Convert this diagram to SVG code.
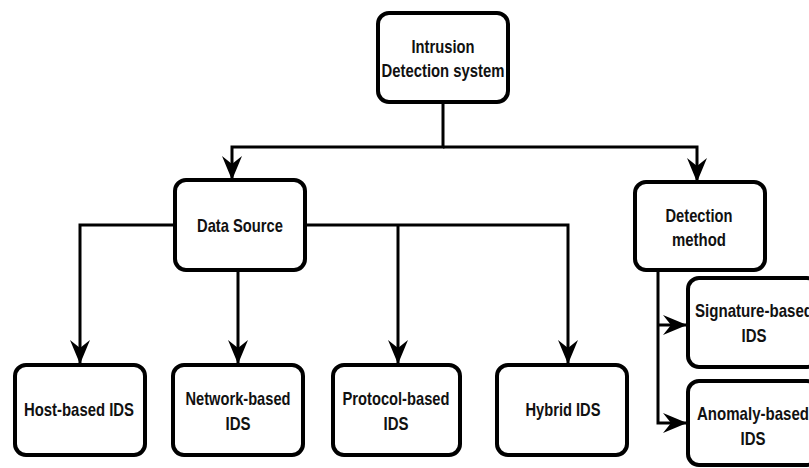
<svg xmlns="http://www.w3.org/2000/svg" width="809" height="468" viewBox="0 0 809 468">
<style>
  .box { fill: #ffffff; stroke: #000000; stroke-width: 4; }
  .lbl { font-family: "Liberation Sans", Arial, sans-serif; font-weight: bold; font-size: 19px; fill: #111111; text-anchor: middle; }
  .conn { fill: none; stroke: #000000; stroke-width: 3; }
</style>
<defs>
  <marker id="arr" markerUnits="userSpaceOnUse" markerWidth="26" markerHeight="22" refX="24" refY="10" orient="auto" overflow="visible">
    <path d="M0,0 L24,10 L0,20 L8,10 Z" fill="#000000"/>
  </marker>
</defs>
<rect width="809" height="468" fill="#ffffff"/>
<g id="connectors">
  <path class="conn" d="M443,102 V147 H232 V180" marker-end="url(#arr)"/>
  <path class="conn" d="M443,147 H697 V182" marker-end="url(#arr)"/>
  <path class="conn" d="M175,225 H80 V364" marker-end="url(#arr)"/>
  <path class="conn" d="M238,270 V364" marker-end="url(#arr)"/>
  <path class="conn" d="M398,225 V364" marker-end="url(#arr)"/>
  <path class="conn" d="M305,225 H568 V364" marker-end="url(#arr)"/>
  <path class="conn" d="M658,270 V423 H687" marker-end="url(#arr)"/>
  <path class="conn" d="M658,325 H687" marker-end="url(#arr)"/>
</g>
<g id="ids">
  <rect class="box" x="378" y="13" width="130" height="89" rx="11"/>
  <text class="lbl" x="443" y="53" textLength="63" lengthAdjust="spacingAndGlyphs">Intrusion</text>
  <text class="lbl" x="443" y="77" textLength="123" lengthAdjust="spacingAndGlyphs">Detection system</text>
</g>
<g id="data-source">
  <rect class="box" x="175" y="180" width="130" height="90" rx="11"/>
  <text class="lbl" x="240" y="232" textLength="86" lengthAdjust="spacingAndGlyphs">Data Source</text>
</g>
<g id="detection-method">
  <rect class="box" x="635" y="182" width="130" height="88" rx="11"/>
  <text class="lbl" x="699" y="222" textLength="67" lengthAdjust="spacingAndGlyphs">Detection</text>
  <text class="lbl" x="699" y="246" textLength="54" lengthAdjust="spacingAndGlyphs">method</text>
</g>
<g id="host">
  <rect class="box" x="15" y="365" width="130" height="90" rx="11"/>
  <text class="lbl" x="79" y="416" textLength="110" lengthAdjust="spacingAndGlyphs">Host-based IDS</text>
</g>
<g id="network">
  <rect class="box" x="173" y="365" width="130" height="90" rx="11"/>
  <text class="lbl" x="238" y="405" textLength="105" lengthAdjust="spacingAndGlyphs">Network-based</text>
  <text class="lbl" x="238" y="430" textLength="25" lengthAdjust="spacingAndGlyphs">IDS</text>
</g>
<g id="protocol">
  <rect class="box" x="333" y="365" width="127" height="90" rx="11"/>
  <text class="lbl" x="396" y="405" textLength="107" lengthAdjust="spacingAndGlyphs">Protocol-based</text>
  <text class="lbl" x="396" y="430" textLength="25" lengthAdjust="spacingAndGlyphs">IDS</text>
</g>
<g id="hybrid">
  <rect class="box" x="497" y="365" width="130" height="90" rx="11"/>
  <text class="lbl" x="563" y="416" textLength="75" lengthAdjust="spacingAndGlyphs">Hybrid IDS</text>
</g>
<g id="signature">
  <rect class="box" x="688" y="278" width="130" height="89" rx="11"/>
  <text class="lbl" x="754" y="317" textLength="118" lengthAdjust="spacingAndGlyphs">Signature-based</text>
  <text class="lbl" x="754" y="342" textLength="25" lengthAdjust="spacingAndGlyphs">IDS</text>
</g>
<g id="anomaly">
  <rect class="box" x="688" y="381" width="130" height="84" rx="11"/>
  <text class="lbl" x="753" y="420" textLength="112" lengthAdjust="spacingAndGlyphs">Anomaly-based</text>
  <text class="lbl" x="753" y="445" textLength="25" lengthAdjust="spacingAndGlyphs">IDS</text>
</g>
</svg>
